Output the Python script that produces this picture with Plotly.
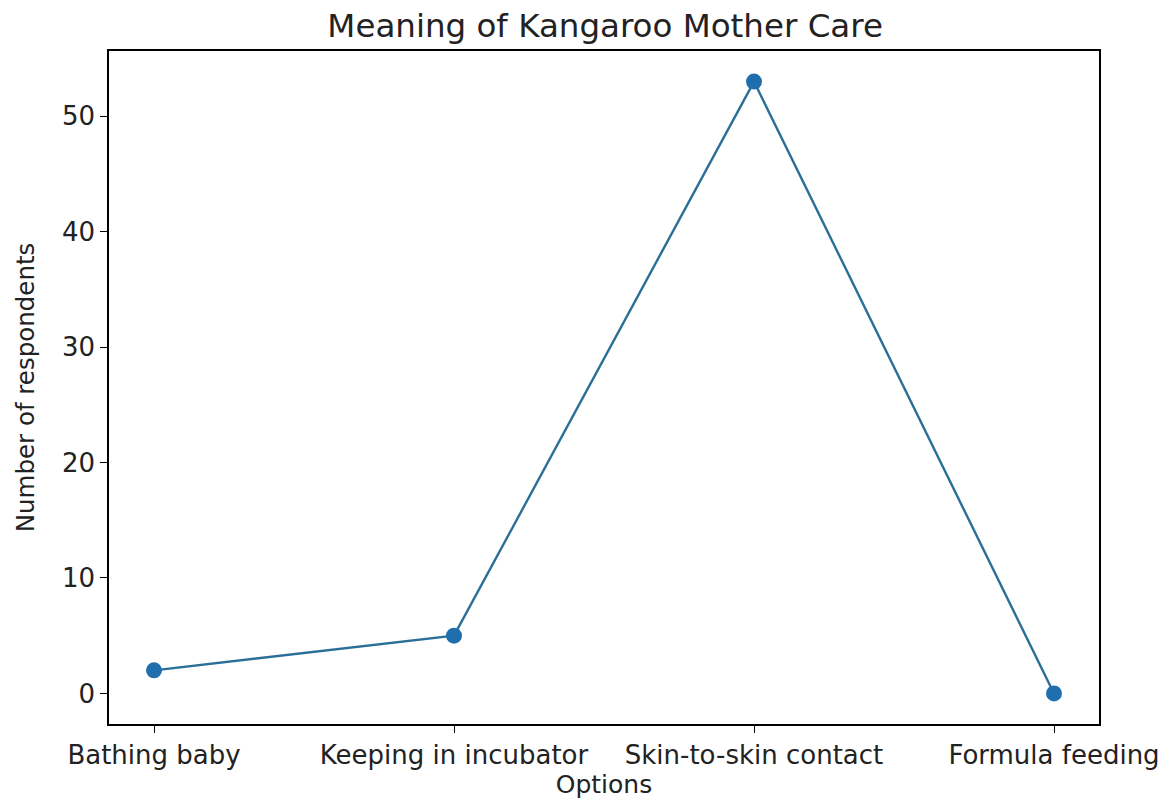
import plotly.graph_objects as go

categories = ["Bathing baby", "Keeping in incubator", "Skin-to-skin contact", "Formula feeding"]
respondents = [2, 5, 53, 0]
y_ticks = [0, 10, 20, 30, 40, 50]

FONT = "DejaVu Sans"
fig = go.Figure(go.Scatter(
    x=list(range(len(categories))), y=respondents,
    mode="lines+markers",
    line=dict(color="#2a6f97", width=2.4),
    marker=dict(color="#1f6fae", size=16),
))

axis_common = dict(
    showgrid=False, zeroline=False, showline=True, linecolor="black", linewidth=1.5,
    mirror=True, ticks="outside", ticklen=7, tickwidth=1.3, tickcolor="black",
    tickfont=dict(family=FONT, size=26, color="#222"),
)

fig.update_layout(
    width=1164, height=796,
    margin=dict(l=101, r=73, t=43, b=80),
    paper_bgcolor="white", plot_bgcolor="white",
    title=dict(text="Meaning of Kangaroo Mother Care", x=0.513, xanchor="center",
               y=0.978, yanchor="middle", font=dict(family=FONT, size=32.5, color="#222")),
    xaxis=dict(
        **axis_common, range=[-0.15, 3.15],
        tickmode="array", tickvals=list(range(len(categories))), ticktext=categories,
        title=dict(text="Options", font=dict(family=FONT, size=25, color="#222"), standoff=6),
    ),
    yaxis=dict(
        **axis_common, range=[-2.65, 55.65],
        tickmode="array", tickvals=y_ticks,
        title=dict(text="Number of respondents", font=dict(family=FONT, size=24.5, color="#222"), standoff=20),
    ),
    showlegend=False,
)

fig.write_html("out.html")
